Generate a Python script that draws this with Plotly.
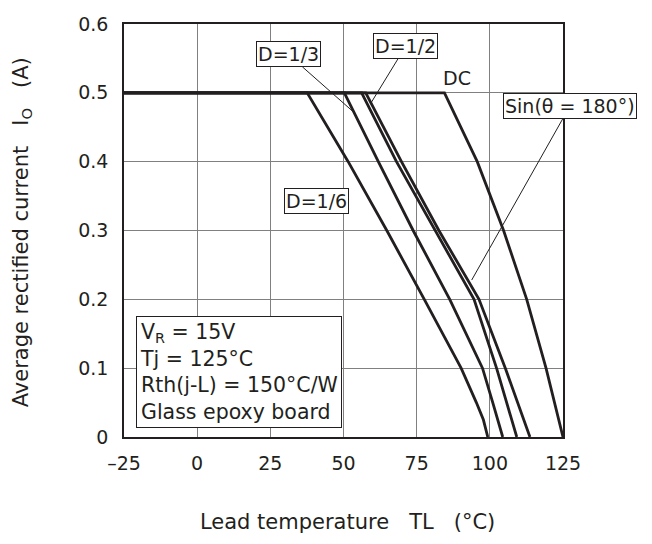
import plotly.graph_objects as go

# Lead temperature (°C) and average rectified current (A) for each curve
t_dc = [-25, 84.5, 95.7, 104.7, 112.6, 119.2, 125]
i_dc = [0.5, 0.5, 0.4, 0.3, 0.2, 0.1, 0]

t_sin = [-25, 57.6, 69.8, 82.6, 96.3, 105.3, 113.7]
i_sin = [0.5, 0.5, 0.4, 0.3, 0.2, 0.1, 0]

t_d12 = [-25, 56.2, 68.1, 81.3, 94.6, 102.3, 109.2]
i_d12 = [0.5, 0.5, 0.4, 0.3, 0.2, 0.1, 0]

t_d13 = [-25, 50.3, 61.9, 73.8, 86.3, 97.5, 101.0, 104.4]
i_d13 = [0.5, 0.5, 0.4, 0.3, 0.2, 0.1, 0.05, 0]

t_d16 = [-25, 37.6, 51.6, 64.8, 77.6, 90.2, 95.4, 97.8, 99.3]
i_d16 = [0.5, 0.5, 0.4, 0.3, 0.2, 0.1, 0.05, 0.025, 0]

x_ticks = [-25, 0, 25, 50, 75, 100, 125]
x_ticktext = ["\u201325", "0", "25", "50", "75", "100", "125"]
y_ticks = [0, 0.1, 0.2, 0.3, 0.4, 0.5, 0.6]
y_ticktext = ["0", "0.1", "0.2", "0.3", "0.4", "0.5", "0.6"]

FONT = "DejaVu Sans, Liberation Sans, Arial, sans-serif"
INK = "#231f20"
GRID = "#808080"

fig = go.Figure()
for name, tx, iy in [("DC", t_dc, i_dc), ("Sin", t_sin, i_sin), ("D=1/2", t_d12, i_d12),
                     ("D=1/3", t_d13, i_d13), ("D=1/6", t_d16, i_d16)]:
    fig.add_trace(go.Scatter(x=tx, y=iy, mode="lines", name=name,
                             line=dict(color=INK, width=2.8), showlegend=False,
                             hoverinfo="skip"))

nb = "\u00a0"
box = dict(bordercolor=INK, borderwidth=1, borderpad=1, bgcolor="white",
           font=dict(family=FONT, size=19, color=INK))
ann = []
# labels with leader lines
ann.append(dict(text="D=1/3", x=53.2, y=0.473, xref="x", yref="y", ax=31.1, ay=0.556,
                axref="x", ayref="y", showarrow=True, arrowhead=0, arrowwidth=1,
                arrowcolor=INK, **box))
ann.append(dict(text="D=1/2", x=59.2, y=0.484, xref="x", yref="y", ax=71.3, ay=0.568,
                axref="x", ayref="y", showarrow=True, arrowhead=0, arrowwidth=1,
                arrowcolor=INK, **box))
ann.append(dict(text="Sin(\u03b8 = 180\u00b0)", x=93.8, y=0.228, xref="x", yref="y",
                ax=127.4, ay=0.481, axref="x", ayref="y", showarrow=True, arrowhead=0,
                arrowwidth=1, arrowcolor=INK, **box))
ann.append(dict(text="D=1/6", x=40.9, y=0.343, xref="x", yref="y", showarrow=False, **box))
ann.append(dict(text="DC", x=88.7, y=0.521, xref="x", yref="y", showarrow=False,
                font=dict(family=FONT, size=19, color=INK)))
ann.append(dict(text="V<sub>R</sub> = 15V<br>Tj = 125\u00b0C<br>Rth(j-L) = 150\u00b0C/W<br>Glass epoxy board",
                x=-20.9, y=0.0126, xref="x", yref="y", xanchor="left", yanchor="bottom",
                align="left", showarrow=False, bordercolor=INK, borderwidth=1, borderpad=3,
                bgcolor="white", font=dict(family=FONT, size=20.5, color=INK)))
# axis titles
ann.append(dict(text=f"Average rectified current{nb*3}I<sub>O</sub>{nb*3}(A)",
                x=-0.232, y=0.496, xref="paper", yref="paper", textangle=-90,
                showarrow=False, xanchor="center", yanchor="middle",
                font=dict(family=FONT, size=21, color=INK)))
ann.append(dict(text=f"Lead temperature{nb*3}TL{nb*3}(\u00b0C)",
                x=0.51, y=-0.205, xref="paper", yref="paper", showarrow=False,
                xanchor="center", yanchor="middle",
                font=dict(family=FONT, size=21, color=INK)))

# the page body adds an 8 px margin, so the figure is sized and placed to compensate
fig.update_layout(
    width=644, height=536,
    margin=dict(l=116, r=89, t=16, b=107),
    paper_bgcolor="white", plot_bgcolor="white",
    font=dict(family=FONT, size=19, color=INK),
    annotations=ann,
    xaxis=dict(range=[-25, 125], tickvals=x_ticks, ticktext=x_ticktext,
               showgrid=True, gridcolor=GRID, gridwidth=1,
               showline=True, linecolor=INK, linewidth=1.6, mirror=True,
               zeroline=False, ticks="", ticklabelstandoff=8, automargin=False,
               tickfont=dict(family=FONT, size=19, color=INK)),
    yaxis=dict(range=[0, 0.6], tickvals=y_ticks, ticktext=y_ticktext,
               showgrid=True, gridcolor=GRID, gridwidth=1,
               showline=True, linecolor=INK, linewidth=1.6, mirror=True,
               zeroline=False, ticks="", ticklabelstandoff=10, automargin=False,
               tickfont=dict(family=FONT, size=19, color=INK)),
)

fig.write_html("out.html")
